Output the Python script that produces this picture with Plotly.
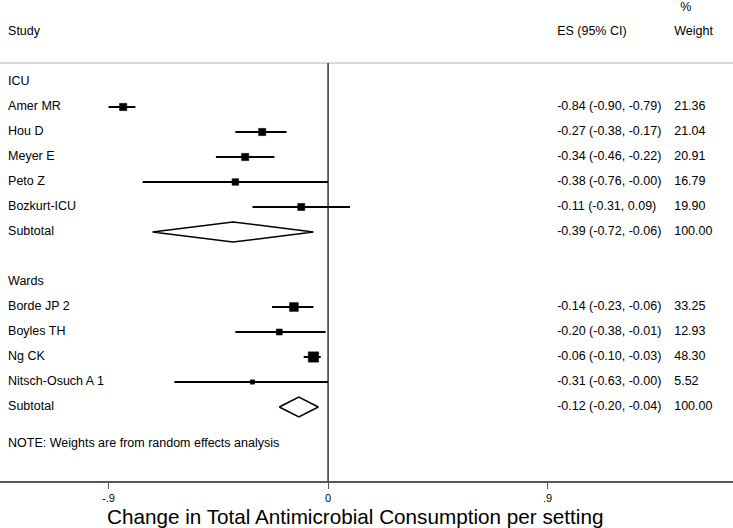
import plotly.graph_objects as go
import numpy as np

# ---------------- data ----------------
icu_studies = ["Amer MR", "Hou D", "Meyer E", "Peto Z", "Bozkurt-ICU"]
icu_es = [-0.84, -0.27, -0.34, -0.38, -0.11]
icu_lo = [-0.90, -0.38, -0.46, -0.76, -0.31]
icu_hi = [-0.79, -0.17, -0.22, -0.00, 0.09]
icu_w = [21.36, 21.04, 20.91, 16.79, 19.90]
icu_sub = (-0.39, -0.72, -0.06)

ward_studies = ["Borde JP 2", "Boyles TH", "Ng CK", "Nitsch-Osuch A 1"]
ward_es = [-0.14, -0.20, -0.06, -0.31]
ward_lo = [-0.23, -0.38, -0.10, -0.63]
ward_hi = [-0.06, -0.01, -0.03, -0.00]
ward_w = [33.25, 12.93, 48.30, 5.52]
ward_sub = (-0.12, -0.20, -0.04)

tick_vals = [-0.9, 0, 0.9]
tick_text = ["-.9", "0", ".9"]
x_title = "Change in Total Antimicrobial Consumption per setting"

FONT = "Arial, Liberation Sans, sans-serif"
FS = 12.5

# row layout
icu_rows = [2, 3, 4, 5, 6]
icu_sub_row = 7
ward_rows = [10, 11, 12, 13]
ward_sub_row = 14

# x positions of text columns (data units)
X_LAB = -1.312
X_ES = 0.939
X_W = 1.419
XMIN, XMAX = -1.345, 1.66
YTOP, YBOT = -2.28, 16.96

fig = go.Figure()

def fmt(es, lo, hi):
    return f"{es:.2f} ({lo:.2f}, {hi:.2f})"

def add_group(rows, es, lo, hi, w):
    for r, e, l, h in zip(rows, es, lo, hi):
        fig.add_trace(go.Scatter(x=[l, h], y=[r, r], mode="lines",
                                 line=dict(color="black", width=2),
                                 hoverinfo="skip", showlegend=False))
    sizes = [1.2 + 1.3 * np.sqrt(v) for v in w]
    fig.add_trace(go.Scatter(x=es, y=rows, mode="markers",
                             marker=dict(symbol="square", size=sizes, color="black",
                                         opacity=1, line=dict(width=0.6, color="black")),
                             hoverinfo="skip", showlegend=False))

def add_diamond(r, sub):
    e, l, h = sub
    fig.add_trace(go.Scatter(x=[l, e, h, e, l], y=[r, r - 0.4, r, r + 0.4, r],
                             mode="lines", fill="toself", fillcolor="white",
                             line=dict(color="black", width=1.5),
                             hoverinfo="skip", showlegend=False))

# header line and null line
fig.add_trace(go.Scatter(x=[XMIN, XMAX], y=[0.24, 0.24], mode="lines",
                         line=dict(color="#c8c8c8", width=1.5),
                         hoverinfo="skip", showlegend=False))
fig.add_trace(go.Scatter(x=[0, 0], y=[0.24, YBOT], mode="lines",
                         line=dict(color="#333333", width=1.5),
                         hoverinfo="skip", showlegend=False))

add_group(icu_rows, icu_es, icu_lo, icu_hi, icu_w)
add_diamond(icu_sub_row, icu_sub)
add_group(ward_rows, ward_es, ward_lo, ward_hi, ward_w)
add_diamond(ward_sub_row, ward_sub)

# left labels
lab_text = ["Study", "ICU"] + icu_studies + ["Subtotal", "Wards"] + ward_studies + ["Subtotal",
            "NOTE: Weights are from random effects analysis"]
lab_y = [-1, 1] + icu_rows + [icu_sub_row, 9] + ward_rows + [ward_sub_row, 15.48]
fig.add_trace(go.Scatter(x=[X_LAB] * len(lab_text), y=lab_y, mode="text", text=lab_text,
                         textposition="middle right",
                         textfont=dict(family=FONT, size=FS, color="black"),
                         hoverinfo="skip", showlegend=False))

# ES column
es_text = ["ES (95% CI)"] + [fmt(*t) for t in zip(icu_es, icu_lo, icu_hi)] + [fmt(*icu_sub)] \
          + [fmt(*t) for t in zip(ward_es, ward_lo, ward_hi)] + [fmt(*ward_sub)]
es_y = [-1] + icu_rows + [icu_sub_row] + ward_rows + [ward_sub_row]
fig.add_trace(go.Scatter(x=[X_ES] * len(es_text), y=es_y, mode="text", text=es_text,
                         textposition="middle right",
                         textfont=dict(family=FONT, size=FS, color="black"),
                         hoverinfo="skip", showlegend=False))

# weight column
w_text = ["Weight"] + [f"{v:.2f}" for v in icu_w] + ["100.00"] + [f"{v:.2f}" for v in ward_w] + ["100.00"]
fig.add_trace(go.Scatter(x=[X_W] * len(w_text), y=es_y, mode="text", text=w_text,
                         textposition="middle right",
                         textfont=dict(family=FONT, size=FS, color="black"),
                         hoverinfo="skip", showlegend=False))
fig.add_trace(go.Scatter(x=[X_W + 0.025], y=[-1.96], mode="text", text=["%"],
                         textposition="middle right",
                         textfont=dict(family=FONT, size=FS, color="black"),
                         hoverinfo="skip", showlegend=False))

fig.add_annotation(text=x_title, xref="paper", yref="paper", x=355 / 733, y=-35 / 481,
                   xanchor="center", yanchor="middle", showarrow=False,
                   font=dict(size=20.7, family=FONT, color="black"))

fig.update_layout(
    width=733, height=528,
    margin=dict(l=0, r=0, t=0, b=47),
    paper_bgcolor="white", plot_bgcolor="white",
    font=dict(family=FONT, color="black"),
    xaxis=dict(range=[XMIN, XMAX], tickvals=tick_vals, ticktext=tick_text,
               showgrid=False, zeroline=False, showline=True, linecolor="#555555",
               linewidth=1.5, ticks="outside", ticklen=6, tickcolor="#555555",
               tickwidth=1, tickfont=dict(size=11, family=FONT, color="black"),
               fixedrange=True),
    yaxis=dict(range=[YBOT, YTOP], visible=False, showgrid=False, zeroline=False,
               fixedrange=True),
)

fig.write_html("out.html", config={"displayModeBar": False},
               post_script="document.body.style.margin='0';document.body.style.padding='0';")
